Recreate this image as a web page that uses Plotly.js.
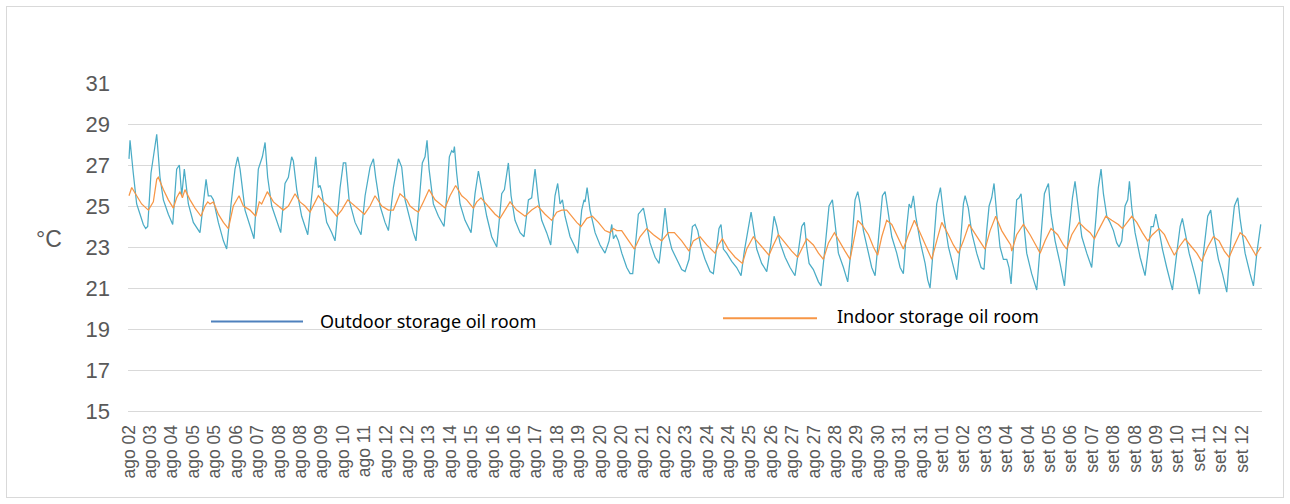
<!DOCTYPE html>
<html>
<head>
<meta charset="utf-8">
<script src="https://cdn.plot.ly/plotly-3.0.1.min.js"></script>
<style>
  html, body { margin: 0; padding: 0; background: #ffffff; }
  #wrap { position: relative; width: 1290px; height: 504px; }
  #chart { position: absolute; left: 0; top: 0; width: 1290px; height: 504px; }
  #frame { position: absolute; left: 6px; top: 6px; width: 1276px; height: 490px;
           border: 1px solid #d9d9d9; pointer-events: none; }
</style>
</head>
<body>
<div id="wrap"><div id="chart"></div><div id="frame"></div></div>
<script>
// Hours since ago 02 15:00 (hourly log, one tick label every 19 h)
const outdoorHours = [0,0.9,3.8,6.8,9.8,12.7,14.8,16.6,19.5,23.1,24.6,27.5,30.5,34.9,38.8,42.3,44.7,46.8,49.1,52.7,57.1,63.0,66.0,68.4,70.4,72.8,74.9,79.3,83.8,86.7,90.6,94.1,96.5,98.6,103.0,107.4,111.0,114.8,118.4,120.8,123.1,126.7,131.1,134.7,138.5,141.5,144.4,145.9,148.9,153.3,158.7,162.2,165.8,168.1,169.6,171.1,175.5,180.0,182.9,187.4,190.3,192.4,195.4,200.7,206.0,209.6,214.0,217.0,219.0,222.9,227.3,230.3,234.7,239.2,242.1,245.1,249.5,252.4,254.8,257.5,260.4,262.8,264.6,266.4,270.2,274.7,279.7,282.1,284.4,286.5,288.0,288.9,290.9,293.9,298.3,303.7,307.2,310.2,313.1,317.6,322.0,326.5,330.9,333.3,336.8,339.2,342.7,347.2,350.7,354.6,357.5,360.5,363.4,366.4,370.8,374.4,378.2,380.6,382.7,384.8,387.1,391.6,396.0,398.4,401.9,404.0,404.9,406.7,409.3,413.8,418.2,422.6,426.2,428.6,430.1,432.1,434.5,437.5,441.9,444.9,447.2,449.3,452.2,455.2,456.7,458.8,462.6,467.1,470.6,473.0,475.9,478.3,481.9,486.3,490.7,493.7,497.2,500.2,502.6,504.9,507.9,511.4,515.9,518.8,521.8,523.8,525.6,527.7,530.6,535.1,539.5,543.4,546.3,549.9,552.3,554.3,557.3,561.7,566.2,570.0,572.7,575.1,578.0,582.5,586.9,591.3,594.3,597.3,599.6,601.7,603.8,607.6,612.1,614.4,618.0,621.5,624.5,626.9,629.8,634.3,638.1,641.7,644.6,647.0,649.1,652.0,656.5,659.4,662.4,665.3,668.9,671.3,673.6,677.2,681.6,684.6,687.5,690.5,692.6,694.3,696.4,698.5,702.3,706.8,709.1,711.2,714.2,717.1,720.4,723.1,727.5,731.9,734.9,737.9,740.8,742.3,745.2,748.2,752.6,756.5,759.1,761.5,763.6,765.9,768.0,770.4,773.3,776.3,779.3,781.3,783.1,785.2,788.1,790.2,792.0,794.1,797.0,801.4,805.9,808.9,812.7,814.8,816.3,818.6,822.2,826.6,830.5,834.0,837.6,839.9,842.3,845.9,850.3,854.7,858.3,860.6,863.0,865.1,868.1,871.0,874.0,876.9,879.0,881.4,884.3,886.7,888.2,890.3,893.2,897.7,902.1,905.1,907.4,909.5,911.6,913.9,917.5,921.3,926.4,930.2,933.2,935.2,937.6,941.2,946.5,950.3,953.9,957.7,960.4,962.8,967.2,970.8,974.6,978.5,981.4,984.4,986.4,990.9,995.3,998.3,1001.3,1004.8];
const outdoorTemps = [27.3,28.2,26.6,25.1,24.6,24.1,23.9,24.0,26.6,27.9,28.5,26.4,25.3,24.6,24.1,26.8,27.0,25.5,26.8,25.1,24.2,23.7,25.1,26.3,25.5,25.5,25.3,24.2,23.3,22.9,25.1,26.8,27.4,26.8,24.8,24.0,23.4,26.8,27.4,28.1,26.4,25.0,24.3,23.7,26.1,26.4,27.4,27.2,25.8,24.5,23.6,25.5,27.4,25.9,26.0,25.7,24.2,23.7,23.3,25.9,27.1,27.1,25.3,24.2,23.6,25.5,26.9,27.3,26.4,25.0,24.2,23.8,25.9,27.3,26.9,25.3,24.3,23.7,23.3,25.3,27.1,27.4,28.2,26.8,25.1,24.5,24.0,25.5,27.4,27.7,27.6,27.9,26.6,25.1,24.3,23.7,25.6,26.7,25.9,24.5,23.5,23.0,25.6,25.8,27.1,25.5,24.3,23.7,23.5,25.3,25.4,26.8,25.3,24.3,23.7,23.1,25.5,26.1,25.1,25.3,24.5,23.5,23.0,22.7,24.8,25.3,25.2,25.9,24.8,23.7,23.1,22.7,23.3,24.1,23.4,23.6,23.3,22.7,22.0,21.7,21.7,23.0,24.6,24.8,24.9,24.3,23.2,22.5,22.2,23.3,24.9,23.7,22.9,22.4,21.9,21.8,22.4,24.0,24.1,23.8,23.0,22.4,21.8,21.7,23.0,23.9,24.1,22.9,22.7,22.3,22.0,21.6,22.8,24.0,24.7,24.0,22.9,22.2,21.8,23.2,24.5,24.0,23.2,22.5,22.0,21.6,22.7,24.0,24.2,23.0,22.2,21.9,21.3,21.1,23.0,25.0,25.3,24.0,22.7,22.0,21.3,23.2,25.3,25.7,25.1,23.8,22.7,22.0,21.6,23.3,25.5,25.7,24.8,23.5,22.7,22.0,21.7,24.0,25.1,24.9,25.5,24.5,23.3,22.2,21.4,21.0,23.0,25.1,25.9,24.6,23.0,22.0,21.4,23.0,25.1,25.5,24.9,23.7,22.7,22.0,21.9,23.8,25.0,25.4,26.1,24.6,23.0,22.4,22.4,22.0,21.2,23.0,25.3,25.4,25.6,24.3,22.7,21.7,20.9,23.0,25.6,25.9,26.1,24.6,23.3,22.2,21.1,23.5,25.4,26.2,25.0,23.5,22.7,22.0,24.3,25.9,26.8,25.6,24.5,24.2,23.8,23.2,23.0,23.3,25.0,25.3,26.2,24.9,23.7,22.5,21.6,23.0,24.0,24.0,24.6,24.0,22.9,22.0,20.9,22.7,24.0,24.4,23.7,22.7,21.6,20.7,22.7,24.5,24.8,23.7,22.4,21.7,20.8,23.5,25.0,25.4,24.4,22.7,21.7,21.1,22.7,24.1];

const indoorHours = [0,2.4,6.8,11.2,17.2,21.6,24.6,26.0,30.5,34.9,39.4,42.3,45.3,47.4,49.7,54.2,58.6,63.9,67.5,69.9,71.9,74.9,79.3,83.8,88.2,92.6,97.7,101.5,107.4,112.5,115.7,117.8,122.8,128.2,132.6,137.0,141.5,147.4,151.8,156.3,160.7,163.7,168.1,172.6,178.5,184.4,188.8,194.2,200.7,209.0,214.0,218.4,224.4,230.3,234.7,240.6,246.6,249.5,253.9,256.9,261.3,266.4,271.7,276.1,280.6,285.0,290.0,295.4,299.8,305.7,308.7,312.5,319.1,325.0,329.4,333.9,338.3,344.2,351.6,357.5,362.9,369.4,375.3,379.7,384.2,388.6,393.0,397.5,401.3,406.4,411.4,416.7,422.6,427.1,430.0,433.0,437.4,443.4,448.7,453.7,459.6,465.6,472.9,478.9,484.2,490.7,497.2,501.0,507.0,512.9,520.3,523.3,526.8,532.1,538.1,544.6,548.4,554.3,560.3,568.2,572.1,576.5,582.5,588.4,593.7,597.3,601.7,607.6,612.1,616.5,621.0,626.3,631.3,635.7,640.2,643.1,647.0,650.5,656.5,660.9,664.7,668.3,672.7,677.2,683.1,687.5,692.0,697.3,702.3,706.8,712.7,717.1,721.6,727.5,731.9,736.4,740.8,745.8,749.7,754.1,760.0,764.5,769.5,774.8,779.3,782.8,783.7,788.1,794.1,800.0,805.0,808.9,813.3,818.6,824.5,829.6,832.5,837.0,843.5,848.8,853.3,857.1,860.6,867.2,872.5,878.4,882.0,885.8,890.3,894.7,899.7,904.5,908.6,914.5,919.3,923.4,928.1,932.3,937.6,943.5,948.0,952.4,957.7,962.8,967.8,972.5,976.7,981.4,986.5,990.9,996.2,1000.4,1004.8];
const indoorTemps = [25.5,25.9,25.5,25.1,24.8,25.2,26.3,26.4,25.8,25.3,24.9,25.4,25.7,25.4,25.8,25.3,24.9,24.5,25.0,25.2,25.1,25.2,24.6,24.2,23.9,25.0,25.5,25.0,24.8,24.5,25.2,25.1,25.7,25.2,25.0,24.8,25.0,25.6,25.2,25.0,24.7,25.0,25.5,25.2,24.9,24.5,24.8,25.3,25.0,24.6,25.0,25.5,25.0,24.8,24.8,25.6,25.3,25.0,24.8,24.7,25.2,25.8,25.3,25.1,24.9,25.5,26.0,25.5,25.3,24.9,25.2,25.4,25.0,24.6,24.4,24.8,25.2,24.8,24.5,24.8,25.0,24.6,24.3,24.7,24.8,24.8,24.5,24.2,24.0,24.4,24.5,24.2,23.8,23.7,23.9,23.8,23.8,23.3,22.9,23.5,23.9,23.6,23.3,23.7,23.7,23.3,22.8,23.3,23.5,23.1,22.7,23.1,23.4,22.9,22.5,22.2,22.9,23.5,23.1,22.6,23.1,23.6,23.2,22.8,22.5,22.9,23.4,23.1,22.7,22.4,23.2,23.7,23.2,22.8,22.4,23.2,24.3,24.1,23.6,23.0,22.6,23.5,24.3,24.1,23.4,22.9,23.6,24.3,23.7,23.1,22.4,23.3,24.2,23.6,23.1,22.7,23.3,24.1,23.8,23.4,22.9,23.8,24.5,23.8,23.4,23.1,22.8,23.6,24.1,23.6,23.1,22.7,23.3,23.9,23.6,23.1,22.9,23.6,24.2,23.9,23.7,23.4,23.8,24.5,24.3,24.1,23.9,24.2,24.5,24.2,23.7,23.3,23.6,23.9,23.6,23.1,22.6,23.0,23.4,23.0,22.7,22.3,23.0,23.5,23.3,22.8,22.5,23.1,23.7,23.5,23.0,22.6,23.0];

const tickLabels = ["ago 02","ago 03","ago 04","ago 05","ago 05","ago 06","ago 07","ago 08","ago 08","ago 09","ago 10","ago 11","ago 12","ago 12","ago 13","ago 14","ago 15","ago 16","ago 16","ago 17","ago 18","ago 19","ago 20","ago 20","ago 21","ago 22","ago 23","ago 24","ago 24","ago 25","ago 26","ago 27","ago 27","ago 28","ago 29","ago 30","ago 31","ago 31","set 01","set 02","set 03","set 04","set 04","set 05","set 06","set 07","set 08","set 08","set 09","set 10","set 11","set 12","set 12"];
const tickStepHours = 19;
const yTicks = [15,17,19,21,23,25,27,29,31];
const seriesNames = ["Outdoor storage oil room","Indoor storage oil room"];

const tickVals = tickLabels.map((_, i) => i * tickStepHours);

const traces = [
  { x: outdoorHours, y: outdoorTemps, type: 'scatter', mode: 'lines', name: seriesNames[0],
    line: { color: '#4BACC6', width: 1.25 }, showlegend: false, hoverinfo: 'y' },
  { x: indoorHours, y: indoorTemps, type: 'scatter', mode: 'lines', name: seriesNames[1],
    line: { color: '#F79646', width: 1.25 }, showlegend: false, hoverinfo: 'y' }
];

// plot-area pixel helpers for legend placement
const L = 128, W = 1134, T = 83, H = 328;
const px = v => (v - L) / W;
const py = v => (T + H - v) / H;

const layout = {
  width: 1290, height: 504,
  margin: { l: L, r: 1290 - L - W, t: T, b: 504 - T - H },
  paper_bgcolor: '#ffffff', plot_bgcolor: '#ffffff',
  font: { family: 'Liberation Sans, Arial, sans-serif', color: '#595959' },
  showlegend: false,
  xaxis: {
    range: [-0.9, 1005.9], tickmode: 'array', tickvals: tickVals, ticktext: tickLabels,
    tickangle: -90, tickfont: { size: 17.5, color: '#595959' }, ticks: '',
    showgrid: false, zeroline: false, showline: true, linecolor: '#d9d9d9', linewidth: 1,
    ticklabelstandoff: 6, fixedrange: true
  },
  yaxis: {
    range: [15, 31], tickmode: 'array', tickvals: yTicks,
    tickfont: { size: 22, color: '#595959' }, ticks: '',
    showgrid: true, gridcolor: '#d9d9d9', gridwidth: 1, zeroline: false, showline: false,
    ticklabelstandoff: 17, fixedrange: true
  },
  shapes: [
    { type: 'rect', xref: 'paper', yref: 'paper', x0: px(300), x1: px(590), y0: py(338), y1: py(306),
      fillcolor: '#ffffff', line: { width: 0 }, layer: 'between' },
    { type: 'line', xref: 'paper', yref: 'paper', x0: px(211), x1: px(303), y0: py(321.5), y1: py(321.5),
      line: { color: '#4F81BD', width: 2 } },
    { type: 'line', xref: 'paper', yref: 'paper', x0: px(723), x1: px(817), y0: py(318.3), y1: py(318.3),
      line: { color: '#F79646', width: 2 } }
  ],
  annotations: [
    { text: seriesNames[0], xref: 'paper', yref: 'paper', x: px(318), y: py(320.7),
      xanchor: 'left', yanchor: 'middle', showarrow: false,
      font: { family: 'Noto Sans, sans-serif', size: 18, color: '#000000' } },
    { text: seriesNames[1], xref: 'paper', yref: 'paper', x: px(835), y: py(315.7),
      xanchor: 'left', yanchor: 'middle', showarrow: false,
      font: { family: 'Noto Sans, sans-serif', size: 18, color: '#000000' } },
    { text: '°C', xref: 'paper', yref: 'paper', x: px(49), y: py(239),
      xanchor: 'center', yanchor: 'middle', showarrow: false,
      font: { family: 'Liberation Sans, Arial, sans-serif', size: 23, color: '#595959' } }
  ]
};

Plotly.newPlot('chart', traces, layout, { displayModeBar: false, staticPlot: true });
</script>
</body>
</html>
